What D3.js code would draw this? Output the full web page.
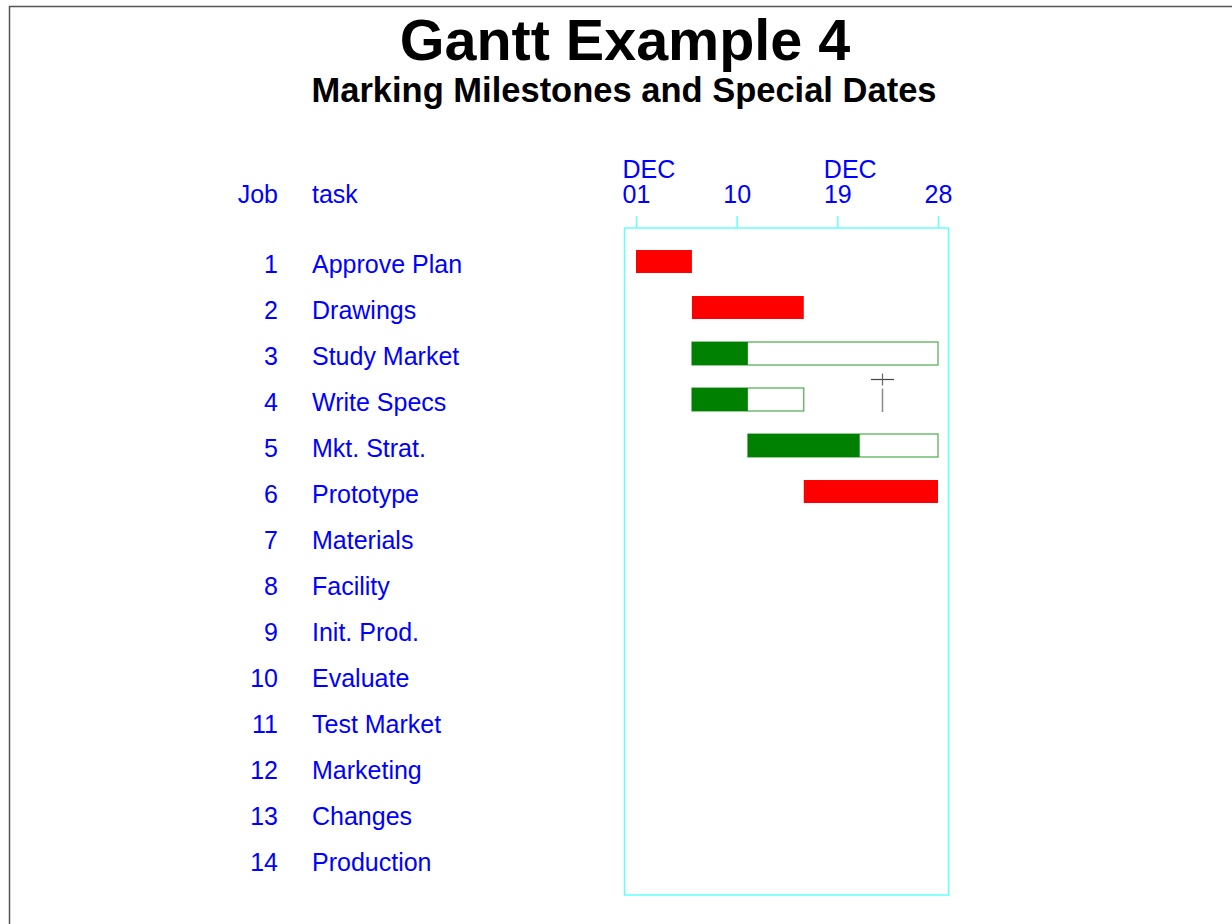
<!DOCTYPE html>
<html>
<head>
<meta charset="utf-8">
<script src="https://cdn.jsdelivr.net/npm/d3@7"></script>
<style>
  body { margin: 0; background: #fff; }
  svg { display: block; font-family: "Liberation Sans", Arial, sans-serif; }
</style>
</head>
<body>
<svg id="chart" width="1232" height="924"></svg>
<script>
// Gantt chart — jobs, tasks and days of December
const jobs  = [1, 2, 3, 4, 5, 6, 7, 8, 9, 10, 11, 12, 13, 14];
const tasks = ["Approve Plan", "Drawings", "Study Market", "Write Specs", "Mkt. Strat.",
               "Prototype", "Materials", "Facility", "Init. Prod.", "Evaluate",
               "Test Market", "Marketing", "Changes", "Production"];

// actual (finished) bars, red
const doneJob   = [1, 2, 6];
const doneStart = [1, 6, 16];
const doneEnd   = [6, 16, 28];

// scheduled bars with progress, green outline + fill
const progJob   = [3, 4, 5];
const progStart = [6, 6, 11];
const progEnd   = [28, 16, 28];
const progTo    = [11, 11, 21];

// milestone / special date
const markJob = 4;
const markDay = 23;

const tickDays  = [1, 10, 19, 28];
const monthAt   = [1, 19];

const day = d => new Date(Date.UTC(2024, 11, d));

const svg = d3.select("#chart");
const fs = 25;

// page border
svg.append("path")
  .attr("d", "M9.5,924 V6.5 H1232")
  .attr("fill", "none").attr("stroke", "#555").attr("stroke-width", 1.5);

// titles
svg.append("text").attr("x", 625).attr("y", 60).attr("text-anchor", "middle")
  .attr("font-size", 57.5).attr("font-weight", "bold").attr("fill", "#000")
  .text("Gantt Example 4");
svg.append("text").attr("x", 624).attr("y", 102).attr("text-anchor", "middle")
  .attr("font-size", 34.5).attr("font-weight", "bold").attr("fill", "#000")
  .text("Marking Milestones and Special Dates");

const x = d3.scaleUtc().domain([day(1), day(28)]).range([636, 938]);
const y = d3.scalePoint().domain(jobs).range([261.5, 859.5]);
const barH = 23;

const blue = "#0000ff";
const frameCol = "#6ff";

// frame (one day of padding each side)
const fx0 = x(day(0)) + 0.5, fx1 = x(day(29));
svg.append("rect")
  .attr("x", Math.round(fx0) - 0.5).attr("y", 228)
  .attr("width", Math.round(fx1 - fx0)).attr("height", 667)
  .attr("fill", "none").attr("stroke", frameCol).attr("stroke-width", 1.5);

// time axis
const axisG = svg.append("g").attr("transform", "translate(0,228)");
axisG.call(d3.axisTop(x).tickValues(tickDays.map(day)).tickSize(12)
    .tickFormat(d3.utcFormat("%d")))
  .call(g => g.select(".domain").remove())
  .call(g => g.selectAll(".tick line").attr("stroke", frameCol).attr("stroke-width", 1.5))
  .call(g => g.selectAll(".tick text").attr("fill", blue)
    .attr("font-size", fs).attr("font-family", "Liberation Sans, Arial, sans-serif")
    .attr("y", -25).attr("dy", 0));

monthAt.forEach(d => {
  svg.append("text").attr("x", x(day(d)) - 13.5).attr("y", 178)
    .attr("fill", blue).attr("font-size", fs)
    .text(d3.utcFormat("%b")(day(d)).toUpperCase());
});

// column headers
svg.append("text").attr("x", 278).attr("y", 203).attr("text-anchor", "end")
  .attr("fill", blue).attr("font-size", fs).text("Job");
svg.append("text").attr("x", 312).attr("y", 203)
  .attr("fill", blue).attr("font-size", fs).text("task");

// row labels
const rows = svg.append("g");
jobs.forEach((j, i) => {
  rows.append("text").attr("x", 278).attr("y", y(j) + 11.5).attr("text-anchor", "end")
    .attr("fill", blue).attr("font-size", fs).text(j);
  rows.append("text").attr("x", 312).attr("y", y(j) + 11.5)
    .attr("fill", blue).attr("font-size", fs).text(tasks[i]);
});

// finished bars
doneJob.forEach((j, i) => {
  svg.append("rect")
    .attr("x", x(day(doneStart[i]))).attr("y", y(j) - barH / 2)
    .attr("width", x(day(doneEnd[i])) - x(day(doneStart[i]))).attr("height", barH)
    .attr("fill", "#ff0000");
});

// bars in progress
progJob.forEach((j, i) => {
  const x0 = x(day(progStart[i])), x1 = x(day(progEnd[i])), xp = x(day(progTo[i]));
  svg.append("rect")
    .attr("x", x0).attr("y", y(j) - barH / 2)
    .attr("width", x1 - x0).attr("height", barH)
    .attr("fill", "#fff").attr("stroke", "#4daa4d").attr("stroke-width", 1.2);
  svg.append("rect")
    .attr("x", x0).attr("y", y(j) - barH / 2)
    .attr("width", xp - x0).attr("height", barH)
    .attr("fill", "#008000");
});

// milestone marker
const mx = Math.round(x(day(markDay))) + 0.5;
const my = y(markJob);
svg.append("line").attr("x1", mx - 11.5).attr("x2", mx + 11.5)
  .attr("y1", my - 20).attr("y2", my - 20)
  .attr("stroke", "#444").attr("stroke-width", 1.2);
svg.append("line").attr("x1", mx).attr("x2", mx)
  .attr("y1", my - 26).attr("y2", my - 14)
  .attr("stroke", "#666").attr("stroke-width", 1.2);
svg.append("line").attr("x1", mx).attr("x2", mx)
  .attr("y1", my - 11).attr("y2", my + 12.5)
  .attr("stroke", "#888").attr("stroke-width", 1.5);
</script>
</body>
</html>
